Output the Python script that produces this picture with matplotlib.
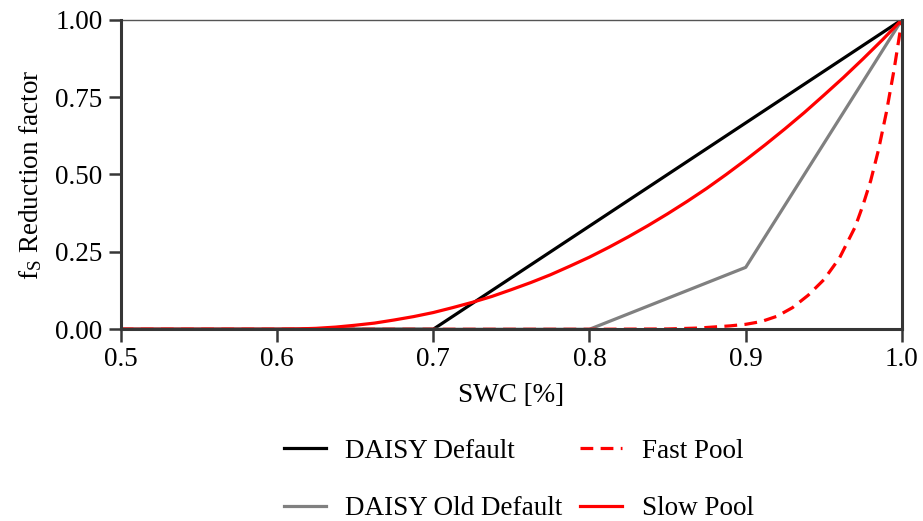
import numpy as np
import matplotlib.pyplot as plt

plt.rcParams['font.family'] = ['Liberation Serif', 'DejaVu Serif']
plt.rcParams['mathtext.fontset'] = 'custom'
plt.rcParams['mathtext.rm'] = 'Liberation Serif'
plt.rcParams['mathtext.it'] = 'Liberation Serif:italic'

# soil water content (fraction) vs reduction factor
swc_default = [0.5, 0.7, 1.0]
fs_default = [0.0, 0.0, 1.0]

swc_old = [0.5, 0.8, 0.9, 1.0]
fs_old = [0.0, 0.0, 0.2, 1.0]

swc_fast = [0.5, 0.8, 0.85, 0.87, 0.89, 0.9, 0.91, 0.92, 0.93, 0.94, 0.95,
            0.96, 0.97, 0.975, 0.98, 0.985, 0.99, 0.995, 1.0]
fs_fast = [0.0, 0.0, 0.001, 0.004, 0.011, 0.016, 0.025, 0.042, 0.07, 0.11, 0.16,
           0.23, 0.33, 0.40, 0.48, 0.58, 0.70, 0.84, 1.0]

swc_slow = [0.5, 0.6, 0.6125, 0.625, 0.6375, 0.65, 0.6625, 0.675, 0.6875, 0.7,
            0.7125, 0.725, 0.7375, 0.75, 0.7625, 0.775, 0.7875, 0.8, 0.8125,
            0.825, 0.8375, 0.85, 0.8625, 0.875, 0.8875, 0.9, 0.9125, 0.925,
            0.9375, 0.95, 0.9625, 0.975, 0.9875, 1.0]
fs_slow = [0.0, 0.0, 0.001, 0.003, 0.007, 0.013, 0.020, 0.030, 0.041, 0.054,
           0.070, 0.087, 0.106, 0.128, 0.151, 0.176, 0.204, 0.233, 0.265,
           0.299, 0.335, 0.373, 0.413, 0.455, 0.500, 0.547, 0.596, 0.647,
           0.700, 0.756, 0.813, 0.873, 0.935, 1.0]

xticks = [0.5, 0.6, 0.7, 0.8, 0.9, 1.0]
yticks = [0.0, 0.25, 0.5, 0.75, 1.0]

fs = 19.5

fig = plt.figure(figsize=(9.23, 5.21), dpi=100)
ax = fig.add_axes([0.1308, 0.368, 0.8464, 0.5942])

lw = 2.3
ax.plot(swc_default, fs_default, color='black', lw=lw, label='DAISY Default')
ax.plot(swc_old, fs_old, color='#808080', lw=lw, label='DAISY Old Default')
ax.plot(swc_fast, fs_fast, color='red', lw=lw, linestyle=(0, (4.0, 2.3)), label='Fast Pool')
ax.plot(swc_slow, fs_slow, color='red', lw=lw, label='Slow Pool')

ax.set_xlim(0.5, 1.0)
ax.set_ylim(0.0, 1.0)
ax.set_xticks(xticks)
ax.set_yticks(yticks)
ax.set_xticklabels([f'{v:.1f}' for v in xticks])
ax.set_yticklabels([f'{v:.2f}' for v in yticks])

spine_col = '#363636'
for side in ['left', 'bottom', 'right']:
    ax.spines[side].set_linewidth(2.2)
    ax.spines[side].set_color(spine_col)
    ax.spines[side].set_zorder(3)
ax.spines['top'].set_linewidth(1.0)
ax.spines['top'].set_color('#555555')

ax.tick_params(axis='both', direction='out', length=9, width=1.8, color=spine_col,
               labelsize=fs, pad=4)

ax.set_xlabel('SWC [%]', fontsize=fs, labelpad=8)
ax.set_ylabel(r'f$_\mathrm{S}$ Reduction factor', fontsize=fs, labelpad=8)

fig.legend(*ax.get_legend_handles_labels(), loc='center',
           bbox_to_anchor=(0.562, 0.0787), ncol=2, frameon=False,
           fontsize=fs, handlelength=1.55, handletextpad=0.72, columnspacing=0.65,
           labelspacing=1.2)

fig.savefig('out.png', dpi=100)
